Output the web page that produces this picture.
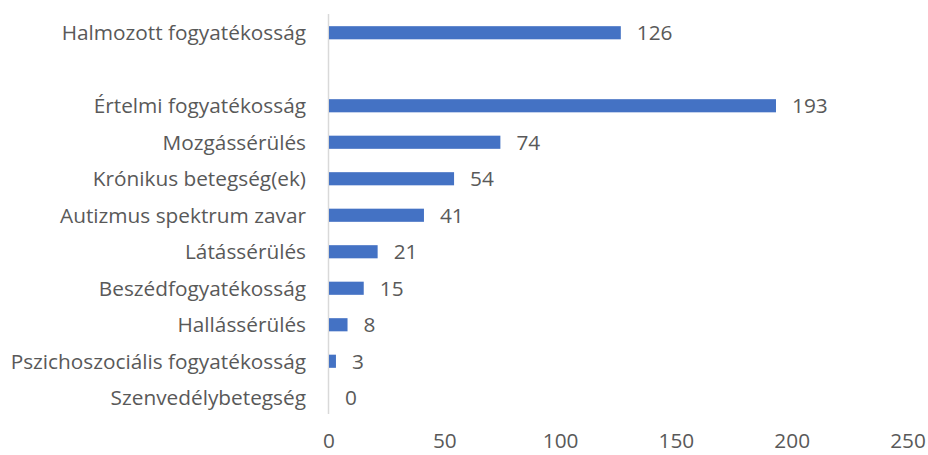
<!DOCTYPE html>
<html>
<head>
<meta charset="utf-8">
<script src="https://cdn.jsdelivr.net/npm/d3@7"></script>
<style>
  body { margin: 0; background: #fff; }
  text { font-family: "Open Sans", sans-serif; fill: #595959; }
</style>
</head>
<body>
<div id="chart"></div>
<script>
// categories top to bottom ("" is the empty spacer row)
const categories = [
    "Halmozott fogyatékosság",
    "",
    "Értelmi fogyatékosság",
    "Mozgássérülés",
    "Krónikus betegség(ek)",
    "Autizmus spektrum zavar",
    "Látássérülés",
    "Beszédfogyatékosság",
    "Hallássérülés",
    "Pszichoszociális fogyatékosság",
    "Szenvedélybetegség"
];
const values = [126, null, 193, 74, 54, 41, 21, 15, 8, 3, 0];
const ticks = [0, 50, 100, 150, 200, 250];

const width = 928, height = 455;
const fontSize = 20.8;

const svg = d3
    .select("#chart")
    .append("svg")
    .attr("width", width)
    .attr("height", height);

const x = d3
    .scaleLinear()
    .domain([0, 250])
    .range([329, 908]);

const y = d3
    .scaleBand()
    .domain(d3.range(categories.length))
    .range([14.5, 416])
    .paddingInner(0.64)
    .paddingOuter(0.32);

// vertical axis line
svg.append("line")
    .attr("x1", x(0) - 0.5)
    .attr("x2", x(0) - 0.5)
    .attr("y1", 14)
    .attr("y2", 414)
    .attr("stroke", "#d9d9d9")
    .attr("stroke-width", 1.5);

const rows = categories.map((c, i) => ({ c, v: values[i], i }));

// category labels
svg.selectAll(".cat")
    .data(rows)
    .enter()
    .append("text")
    .attr("class", "cat")
    .attr("x", 306)
    .attr("y", (d) => y(d.i) + y.bandwidth() / 2)
    .attr("dy", "0.35em")
    .attr("text-anchor", "end")
    .attr("font-size", fontSize)
    .text((d) => d.c);

const bars = rows.filter((d) => d.v !== null);

svg.selectAll("rect")
    .data(bars)
    .enter()
    .append("rect")
    .attr("x", x(0))
    .attr("y", (d) => y(d.i))
    .attr("width", (d) => x(d.v) - x(0))
    .attr("height", y.bandwidth())
    .attr("fill", "#4472C4");

// value labels
svg.selectAll(".val")
    .data(bars)
    .enter()
    .append("text")
    .attr("class", "val")
    .attr("x", (d) => x(d.v) + 16)
    .attr("y", (d) => y(d.i) + y.bandwidth() / 2)
    .attr("dy", "0.35em")
    .attr("font-size", fontSize)
    .text((d) => d.v);

// x tick labels
svg.selectAll(".tick")
    .data(ticks)
    .enter()
    .append("text")
    .attr("class", "tick")
    .attr("x", (d) => x(d))
    .attr("y", 441)
    .attr("dy", "0.35em")
    .attr("text-anchor", "middle")
    .attr("font-size", fontSize)
    .text((d) => d);
</script>
</body>
</html>
